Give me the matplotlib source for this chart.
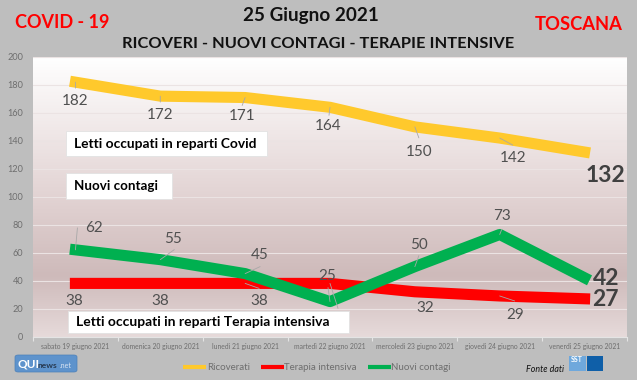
import numpy as np
import matplotlib
matplotlib.use("Agg")
import matplotlib.pyplot as plt
from matplotlib.colors import LinearSegmentedColormap
from matplotlib.patches import FancyBboxPatch, Rectangle

plt.rcParams['font.family'] = ['Lato', 'DejaVu Sans']

W, H = 637, 380
dates = ["sabato 19 giugno 2021", "domenica 20 giugno 2021", "lunedì 21 giugno 2021",
         "martedì 22 giugno 2021", "mercoledì 23 giugno 2021", "giovedì 24 giugno 2021",
         "venerdì 25 giugno 2021"]
ricoverati = [182, 172, 171, 164, 150, 142, 132]
terapia = [38, 38, 38, 38, 32, 29, 27]
contagi = [62, 55, 45, 25, 50, 73, 42]
yticks = list(range(0, 201, 20))

GRAY = '#BEBEBE'
fig = plt.figure(figsize=(W/100, H/100), dpi=100, facecolor=GRAY)
L, R, T, B = 33, 627, 57, 336.5
ax = fig.add_axes([L/W, 1-B/H, (R-L)/W, (B-T)/H])

cmap = LinearSegmentedColormap.from_list('bg', [(0, '#FFFFFF'), (0.5, '#E2D3D3'),
                                                (0.78, '#CEBABA'), (1, '#E6DADA')])
ax.imshow(np.linspace(0, 1, 256)[:, None], extent=(-0.5, 6.5, 0, 200), aspect='auto',
          cmap=cmap, zorder=0)
ax.set_xlim(-0.5, 6.5)
ax.set_ylim(0, 200)

ax.yaxis.grid(True, color='#EBE3E3', lw=0.8, zorder=1)
ax.set_axisbelow(True)
for s in ['top', 'right', 'left']:
    ax.spines[s].set_visible(False)
ax.spines['bottom'].set_color('#E4E4E4')
ax.spines['bottom'].set_linewidth(0.8)

ax.set_yticks(yticks)
ax.tick_params(axis='y', length=0, labelsize=6.6, labelcolor='#6E6E6E', pad=7)
ax.set_xticks(np.arange(-0.5, 7, 1))
ax.set_xticklabels([])
ax.tick_params(axis='x', length=3, color='#E4E4E4', width=0.8, direction='out')
x = np.arange(7)
for xi, d in zip(x, dates):
    ax.annotate(d, (xi, 0), xytext=(0, -4.5), textcoords='offset points', ha='center', va='top',
                fontsize=4.9, color='#6E6E6E')

lw = 8.0
common = dict(lw=lw, solid_capstyle='projecting', solid_joinstyle='round')
l1, = ax.plot(x, ricoverati, color='#FFC92C', zorder=3, label='Ricoverati', **common)
l2, = ax.plot(x, terapia, color='#FF0000', zorder=3, label='Terapia intensiva', **common)
l3, = ax.plot(x, contagi, color='#00B050', zorder=4, label='Nuovi contagi', **common)

LAB = '#505050'
def lab(xi, v, dx, dy, big=False):
    """Data label offset in pixels from its point."""
    big_kw = dict(fontsize=16.5, fontweight='bold', color='#404040') if big else dict(fontsize=11, color=LAB)
    ax.annotate(str(v), (xi, v), xytext=(dx*0.72, -(dy+1)*0.72), textcoords='offset points',
                ha='center', va='center', zorder=6, **big_kw)

def leader(xi, v, dx1, dy1):
    ax.annotate('', (xi, v), xytext=(dx1*0.72, -dy1*0.72), textcoords='offset points',
                xycoords='data', zorder=5,
                arrowprops=dict(arrowstyle='-', color='#A8A8A8', lw=0.6, shrinkA=0, shrinkB=0))

for i, (v, dx, dy) in enumerate(zip(ricoverati, [0, 0, -3, -2, 4, 13, 21], [17.5, 17.5, 17.5, 18, 24, 19, 22])):
    lab(i, v, dx, dy, big=i == 6)
for i, (v, dx, dy) in enumerate(zip(terapia, [-1, 0, 14.5, None, 10, 15, 21], [16.5, 16.5, 16.5, None, 15, 18, 0])):
    if dx is not None:
        lab(i, v, dx, dy, big=i == 6)
for i, (v, dx, dy) in enumerate(zip(contagi, [18.5, 13, 14.5, -2.5, 4, 2.5, 21.5], [-23, -22, -20, -26.5, -22.7, -19, 0])):
    lab(i, v, dx, dy, big=i == 6)

for i, v, dx, dy in [(0, 182, 0, 6), (1, 172, 0, 6), (2, 171, -3, 8), (3, 164, -1, 8),
                     (4, 150, 4, 11), (5, 142, 13, 7), (2, 38, 14, 5), (3, 38, 8, 25),
                     (5, 29, 15, 5), (1, 55, 14, -10), (2, 45, 15, -7), (4, 50, 4, -11),
                     (5, 73, 2, -5), (0, 62, 2, -22), (3, 25, -2, -14)]:
    leader(i, v, dx, dy)

def ftext(px, py, s, **kw):
    return fig.text(px/W, 1-py/H, s, **kw)

ftext(62, 23, "COVID - 19", color='#FF0000', fontsize=13, fontweight='bold', ha='center', va='center')
ftext(311, 15, "25 Giugno 2021", color='#111111', fontsize=13.6, fontweight='bold', ha='center', va='center')
ftext(318, 43.5, "RICOVERI - NUOVI CONTAGI - TERAPIE INTENSIVE", color='#111111', fontsize=11.8, fontweight='bold', ha='center', va='center')
ftext(579, 24, "TOSCANA", color='#FF0000', fontsize=13.2, fontweight='bold', ha='center', va='center')

def box(x0, y0, x1, y1, s, tx, fs=9.9):
    fig.add_artist(Rectangle((x0/W, 1-y1/H), (x1-x0)/W, (y1-y0)/H, transform=fig.transFigure,
                             fc='white', ec='#E2E2E2', lw=0.6, zorder=7))
    t = fig.text(tx/W, 1-(y0+y1)/2/H, s, color='black', fontsize=fs, fontweight='bold', ha='left', va='center')
    t.set_zorder(8)

box(66, 131, 267, 156, "Letti occupati in reparti Covid", 74)
box(66, 173, 172, 199, "Nuovi contagi", 74, fs=9.6)
box(68, 311, 349, 333, "Letti occupati in reparti Terapia intensiva", 76, fs=10)

# legend
leg = fig.legend(handles=[l1, l2, l3], loc='center', bbox_to_anchor=(317/W, 1-368/H), ncol=3,
                 frameon=False, fontsize=7.0, labelcolor='#6E6E6E', handlelength=2.4, handletextpad=0.05,
                 columnspacing=1.1, borderpad=0, borderaxespad=0)
for h in leg.legend_handles:
    h.set_linewidth(3)
    h.set_solid_capstyle('butt')

# logos
fig.add_artist(FancyBboxPatch((15/W, 1-372/H), 62/W, 17/H, boxstyle='round,pad=0,rounding_size=0.005',
                              transform=fig.transFigure, fc='#5E93CC', ec='#4B7FB8', lw=0.5))
ftext(17, 364, "QUI", color='white', fontsize=8.5, fontweight='bold', ha='left', va='center')
ftext(38, 365, "news", color='#26384F', fontsize=6, fontweight='bold', ha='left', va='center')
ftext(60, 365.5, ".net", color='#D8E4F2', fontsize=5, ha='left', va='center')
ftext(545, 370, "Fonte dati", color='#111111', fontsize=6.4, style='italic', ha='center', va='center')
fig.add_artist(Rectangle((569/W, 1-371/H), 17/W, 15/H, transform=fig.transFigure, fc='#6FA8DC', ec='none'))
fig.add_artist(Rectangle((587/W, 1-371/H), 16/W, 15/H, transform=fig.transFigure, fc='#0F5FA8', ec='none'))
ftext(577, 359.5, "SST", color='white', fontsize=5, fontweight='bold', ha='center', va='center')

fig.savefig('out.png', dpi=100, facecolor=GRAY)
